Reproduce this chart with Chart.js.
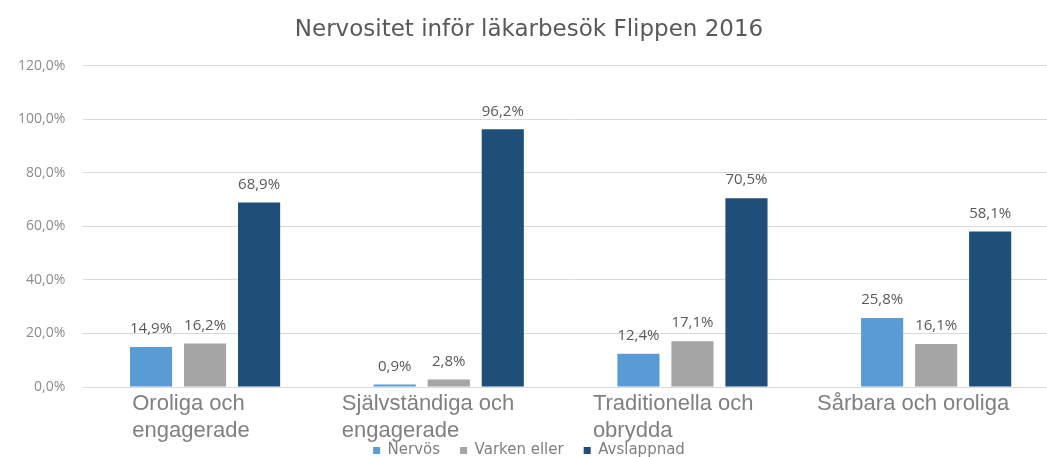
<!DOCTYPE html>
<html lang="sv">
<head>
<meta charset="utf-8">
<title>Nervositet inför läkarbesök Flippen 2016</title>
<script src="https://cdn.jsdelivr.net/npm/chart.js@4.4.1/dist/chart.umd.min.js"></script>
<style>
  html, body { margin: 0; padding: 0; background: #fff; }
  #wrap { width: 1047px; height: 457px; overflow: hidden; position: relative; }
  #box { position: absolute; left: 0; top: 0; width: 1060px; height: 468px; }
</style>
</head>
<body>
<div id="wrap"><div id="box"><canvas id="chart"></canvas></div></div>
<script>
const categories = [
    ['Oroliga och', 'engagerade'],
    ['Självständiga och', 'engagerade'],
    ['Traditionella och', 'obrydda'],
    ['Sårbara och oroliga']
];
const seriesNames = ['Nervös', 'Varken eller', 'Avslappnad'];
const nervos = [14.9, 0.9, 12.4, 25.8];
const varkenEller = [16.2, 2.8, 17.1, 16.1];
const avslappnad = [68.9, 96.2, 70.5, 58.1];
const yTicks = [0, 20, 40, 60, 80, 100, 120];

const colors = ['#5b9bd5', '#a5a5a5', '#1f4e79'];
const pct = v => v.toFixed(1).replace('.', ',') + '%';

// value above every bar
const valueLabels = {
    id: 'valueLabels',
    afterDatasetsDraw(chart) {
        const ctx = chart.ctx;
        ctx.save();
        ctx.font = '15px "Open Sans"';
        ctx.fillStyle = '#595959';
        ctx.textAlign = 'center';
        ctx.textBaseline = 'middle';
        chart.data.datasets.forEach((ds, i) => {
            chart.getDatasetMeta(i).data.forEach((bar, j) => {
                ctx.fillText(pct(ds.data[j]), bar.x, bar.y - 18);
            });
        });
        ctx.restore();
    }
};

// wrapped category names, lines left aligned under each group
const categoryLabels = {
    id: 'categoryLabels',
    afterDraw(chart) {
        const ctx = chart.ctx;
        const xs = chart.scales.x;
        const top = chart.chartArea.bottom;
        ctx.save();
        ctx.font = '22px "Liberation Sans"';
        ctx.fillStyle = '#808080';
        ctx.textAlign = 'left';
        ctx.textBaseline = 'middle';
        chart.data.labels.forEach((lines, i) => {
            const x = xs.getPixelForValue(i);
            const w = Math.max(...lines.map(l => ctx.measureText(l).width));
            lines.forEach((l, k) => ctx.fillText(l, x - w * 0.62, top + 17 + k * 27));
        });
        ctx.restore();
    }
};

const ctx = document.getElementById('chart').getContext('2d');
const chart = new Chart(ctx, {
    type: 'bar',
    data: {
        labels: categories,
        datasets: [nervos, varkenEller, avslappnad].map((data, i) => ({
            label: seriesNames[i],
            data: data,
            backgroundColor: colors[i],
            categoryPercentage: 0.665,
            barPercentage: 0.78
        }))
    },
    options: {
        responsive: true,
        maintainAspectRatio: false,
        animation: false,
        layout: { padding: { left: 0, right: 2 } },
        plugins: {
            title: {
                display: true,
                text: 'Nervositet inför läkarbesök Flippen 2016',
                color: '#595959',
                font: { family: 'DejaVu Sans', size: 23, weight: 'normal' },
                padding: { top: 16, bottom: 22 }
            },
            legend: {
                position: 'bottom',
                labels: {
                    boxWidth: 7,
                    boxHeight: 7,
                    padding: 20,
                    color: '#7f7f7f',
                    font: { family: 'DejaVu Sans', size: 15 }
                }
            },
            tooltip: { enabled: false }
        },
        scales: {
            x: {
                grid: { display: false },
                border: { color: '#d9d9d9' },
                ticks: { display: false },
                afterFit: s => { s.height = 36; }
            },
            y: {
                min: 0,
                max: 120,
                border: { display: false },
                grid: { color: '#d9d9d9', drawTicks: false },
                afterBuildTicks: s => { s.ticks = yTicks.map(v => ({ value: v })); },
                ticks: {
                    padding: 18,
                    color: '#8c8c8c',
                    font: { family: 'Open Sans', size: 14 },
                    callback: v => pct(v)
                }
            }
        }
    },
    plugins: [valueLabels, categoryLabels]
});
</script>
</body>
</html>
